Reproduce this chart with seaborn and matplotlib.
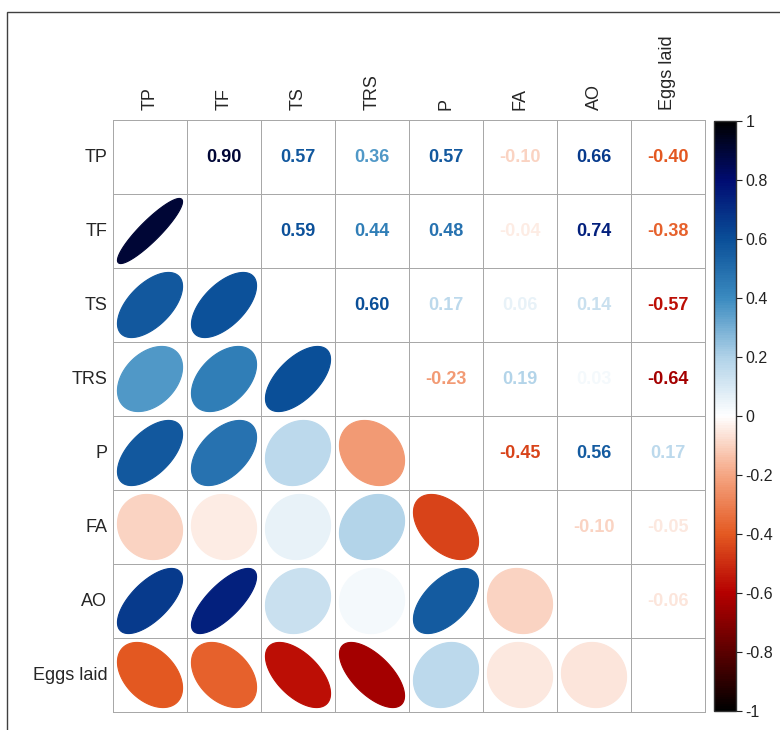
import numpy as np
import seaborn as sns
import matplotlib
matplotlib.use("Agg")
import matplotlib.pyplot as plt
from matplotlib.colors import LinearSegmentedColormap, ListedColormap, Normalize
from matplotlib.cm import ScalarMappable
from matplotlib.patches import Polygon, Rectangle

# variables and their correlation matrix
labels = ["TP", "TF", "TS", "TRS", "P", "FA", "AO", "Eggs laid"]
r_TP = [1.00, 0.90, 0.57, 0.36, 0.57, -0.10, 0.66, -0.40]
r_TF = [0.90, 1.00, 0.59, 0.44, 0.48, -0.04, 0.74, -0.38]
r_TS = [0.57, 0.59, 1.00, 0.60, 0.17, 0.06, 0.14, -0.57]
r_TRS = [0.36, 0.44, 0.60, 1.00, -0.23, 0.19, 0.03, -0.64]
r_P = [0.57, 0.48, 0.17, -0.23, 1.00, -0.45, 0.56, 0.17]
r_FA = [-0.10, -0.04, 0.06, 0.19, -0.45, 1.00, -0.10, -0.05]
r_AO = [0.66, 0.74, 0.14, 0.03, 0.56, -0.10, 1.00, -0.06]
r_Eggs = [-0.40, -0.38, -0.57, -0.64, 0.17, -0.05, -0.06, 1.00]
corr = np.array([r_TP, r_TF, r_TS, r_TRS, r_P, r_FA, r_AO, r_Eggs])

cbar_ticks = [-1, -0.8, -0.6, -0.4, -0.2, 0, 0.2, 0.4, 0.6, 0.8, 1]
cbar_labels = ["-1", "-0.8", "-0.6", "-0.4", "-0.2", "0", "0.2", "0.4", "0.6", "0.8", "1"]

sns.set_theme(style="white")
plt.rcParams["font.family"] = ["Liberation Sans", "DejaVu Sans"]

cmap = LinearSegmentedColormap.from_list("corr", [
    (0.0, "#000000"), (0.1, "#5c0000"), (0.2, "#b50000"), (0.3, "#e45a22"),
    (0.4, "#f5a683"), (0.5, "#ffffff"), (0.6, "#b0d2e8"), (0.7, "#3b8bc0"),
    (0.8, "#0a4f98"), (0.9, "#000c72"), (1.0, "#000000")])
norm = Normalize(-1, 1)

fig = plt.figure(figsize=(7.8, 7.3), dpi=100)
ax = fig.add_axes([113 / 780, 18 / 730, 592 / 780, 592 / 730])
cax = fig.add_axes([714 / 780, 19 / 730, 22 / 780, 590 / 730])

# white grid of cells
n = len(labels)
sns.heatmap(np.zeros((n, n)), ax=ax, cmap=ListedColormap(["white"]), cbar=False,
            linewidths=0.6, linecolor="#a8a8a8", xticklabels=labels, yticklabels=labels)
ax.collections[0].set_clip_on(False)
ax.xaxis.tick_top()
ax.tick_params(axis="x", length=0, pad=7, labelsize=13, rotation=90)
ax.tick_params(axis="y", length=0, pad=4, labelsize=13, rotation=0)
for t in ax.get_xticklabels():
    t.set_verticalalignment("bottom")

# upper triangle: numbers, lower triangle: ellipses
tt = np.linspace(0, 2 * np.pi, 120)
s = 0.88
for i in range(n):
    for j in range(n):
        r = corr[i, j]
        if j > i:
            ax.text(j + 0.5, i + 0.5, f"{r:.2f}", ha="center", va="center",
                    fontsize=13, fontweight="bold", color=cmap(norm(r)))
        elif j < i:
            a = np.arccos(r)
            ex = np.cos(tt + a / 2) / 2 * s
            ey = np.cos(tt - a / 2) / 2 * s
            pts = np.column_stack([j + 0.5 + ex, i + 0.5 - ey])
            ax.add_patch(Polygon(pts, closed=True, facecolor=cmap(norm(r)),
                                 edgecolor=cmap(norm(r)), lw=0.8))

# colour bar
cb = fig.colorbar(ScalarMappable(norm=norm, cmap=cmap), cax=cax)
cb.set_ticks(cbar_ticks)
cb.set_ticklabels(cbar_labels)
cb.outline.set_edgecolor("#333333")
cb.outline.set_linewidth(1)
cax.tick_params(length=4, width=0.8, direction="out", pad=3, labelsize=11.5,
                colors="#222222", right=True)

# frame around the figure
fig.add_artist(Rectangle((7 / 780, -0.05), 1.0, 1 - 12 / 730 + 0.05,
                         transform=fig.transFigure, fill=False,
                         edgecolor="#404040", lw=1))

fig.savefig("out.png", dpi=100)
